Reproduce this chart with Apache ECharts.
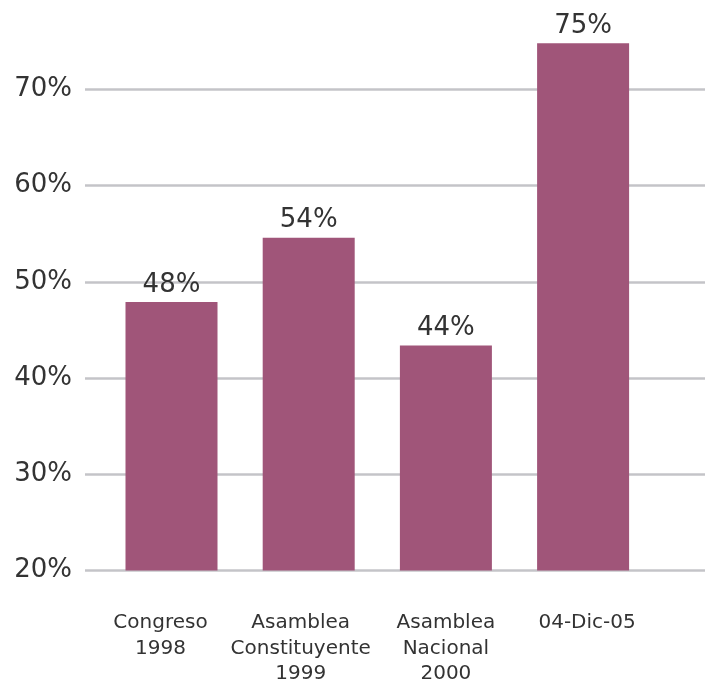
<!DOCTYPE html>
<html>
<head>
<meta charset="utf-8">
<script src="https://cdn.jsdelivr.net/npm/echarts@6/dist/echarts.min.js"></script>
<style>
html,body{margin:0;padding:0;background:#fff;}
#chart{width:705px;height:681px;}
</style>
</head>
<body>
<div id="chart"></div>
<script>
const categories = ['Congreso\n1998', 'Asamblea\nConstituyente\n1999', 'Asamblea\nNacional\n2000', '04-Dic-05'];
const values = [47.9, 54.6, 43.4, 74.8];
const valueLabels = ['48%', '54%', '44%', '75%'];
const yTickLabels = ['20%', '30%', '40%', '50%', '60%', '70%'];
const labelShifts = [-11, -8, 0, 4];

const FONT = 'DejaVu Sans';
const chart = echarts.init(document.getElementById('chart'), null, {renderer: 'canvas'});

const catData = categories.map((c, i) => {
  const s = labelShifts[i];
  return {
    value: c,
    textStyle: { padding: s < 0 ? [0, -2 * s, 0, 0] : [0, 0, 0, 2 * s] }
  };
});

// pixel geometry: 20% at y=570.5, 70% at y=89.5
const bottomPx = 681 - 570.5;
const pxPerUnit = (570.5 - 89.5) / 50;
const barAxisMax = 20 + 570.5 / pxPerUnit;

chart.setOption({
  animation: false,
  backgroundColor: '#ffffff',
  grid: [
    {left: 85, right: 0, top: 89.5, bottom: bottomPx, outerBoundsMode: 'none', containLabel: false},
    {left: 102.9, right: 53.3, top: 0, bottom: bottomPx, outerBoundsMode: 'none', containLabel: false}
  ],
  xAxis: [
    {gridIndex: 0, type: 'value', show: false, min: 0, max: 1},
    {
      gridIndex: 1, type: 'category', data: catData,
      axisLine: {show: false}, axisTick: {show: false},
      axisLabel: {
        interval: 0, margin: 40, color: '#333333',
        fontFamily: FONT, fontSize: 20, lineHeight: 25.5
      }
    }
  ],
  yAxis: [
    {
      gridIndex: 0, type: 'value', min: 20, max: 70, interval: 10,
      axisLine: {show: false}, axisTick: {show: false},
      axisLabel: {
        margin: 13, color: '#333333', fontFamily: FONT, fontSize: 26,
        formatter: (v) => yTickLabels[Math.round((v - 20) / 10)] || ''
      },
      splitLine: {show: true, lineStyle: {color: '#c4c4c8', width: 2.5}}
    },
    {
      gridIndex: 1, type: 'value', min: 20, max: barAxisMax, show: false,
      splitLine: {show: false}
    }
  ],
  series: [{
    type: 'bar',
    xAxisIndex: 1, yAxisIndex: 1,
    data: values,
    barWidth: 92,
    itemStyle: {color: '#a05579'},
    label: {
      show: true, position: 'top', distance: 4,
      color: '#333333', fontFamily: FONT, fontSize: 26,
      formatter: (p) => valueLabels[p.dataIndex]
    }
  }]
});
</script>
</body>
</html>
